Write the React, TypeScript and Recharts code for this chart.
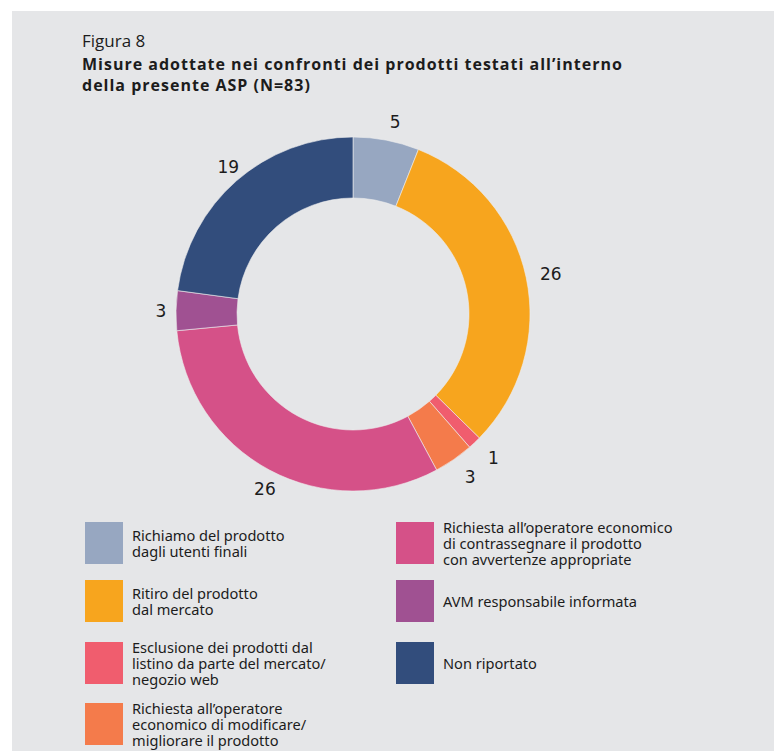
import { PieChart, Pie, Cell } from 'recharts'

const categories = [
  'Richiamo del prodotto\ndagli utenti finali',
  'Ritiro del prodotto\ndal mercato',
  'Esclusione dei prodotti dal\nlistino da parte del mercato/\nnegozio web',
  'Richiesta all\u2019operatore\neconomico di modificare/\nmigliorare il prodotto',
  'Richiesta all\u2019operatore economico\ndi contrassegnare il prodotto\ncon avvertenze appropriate',
  'AVM responsabile informata',
  'Non riportato',
]
const counts = [5, 26, 1, 3, 26, 3, 19]
const colors = ['#97a7c1', '#f7a51e', '#f05d6e', '#f47b4b', '#d55188', '#a05192', '#324d7c']

// legend placement: left column holds the first four, right column the rest
const leftItems = [0, 1, 2, 3]
const rightItems = [4, 5, 6]
const rowTops = [522, 580, 642, 703]

const bg = '#e5e6e8'
const ink = '#1c1c1c'

const data = categories.map((name, i) => ({ name, value: counts[i] }))

const RAD = Math.PI / 180

// value labels sit on a ring slightly right of the donut centre
const renderLabel = (p: any) => {
  const r = p.outerRadius + 20
  const x = p.cx + 5 + r * Math.cos(-p.midAngle * RAD)
  const y = p.cy + 1 + r * Math.sin(-p.midAngle * RAD)
  return (
    <text x={x} y={y} textAnchor="middle" dominantBaseline="central"
      fontFamily="DejaVu Sans" fontSize={17} fill={ink}>
      {p.value}
    </text>
  )
}

function LegendRow({ idx, left, top }: { idx: number; left: number; top: number }) {
  return (
    <div style={{ position: 'absolute', left, top, display: 'flex', alignItems: 'center', height: 42 }}>
      <div style={{ width: 38, height: 42, background: colors[idx], flexShrink: 0 }} />
      <div style={{
        marginLeft: 9, whiteSpace: 'pre-line', fontFamily: '"Noto Sans", sans-serif',
        fontSize: 14.6, lineHeight: '16px', color: ink,
      }}>
        {categories[idx]}
      </div>
    </div>
  )
}

export default function App() {
  const titleFont = '"Open Sans", sans-serif'
  return (
    <div style={{ position: 'absolute', left: 0, top: 0, width: 776, height: 751, background: '#fff', overflow: 'hidden' }}>
      <div style={{ position: 'absolute', left: 12, top: 11, width: 762, height: 740, background: bg }} />

      <div style={{ position: 'absolute', left: 82, top: 34, fontFamily: titleFont, fontSize: 17, lineHeight: '14px', color: ink }}>
        Figura 8
      </div>
      <div style={{
        position: 'absolute', left: 82, top: 53.5, fontFamily: titleFont, fontSize: 16,
        fontWeight: 700, lineHeight: '21px', letterSpacing: 1, color: ink, whiteSpace: 'nowrap',
      }}>
        Misure adottate nei confronti dei prodotti testati all’interno<br />
        della presente ASP (N=83)
      </div>

      <div style={{ position: 'absolute', left: 0, top: 0 }}>
        <PieChart width={776} height={520} margin={{ top: 0, right: 0, bottom: 0, left: 0 }}>
          <Pie
            data={data} dataKey="value" nameKey="name"
            cx={353} cy={314} innerRadius={116} outerRadius={177}
            startAngle={90} endAngle={-270}
            stroke="#eeeeee" strokeWidth={0.6}
            label={renderLabel} labelLine={false}
            isAnimationActive={false}
          >
            {data.map((_, i) => <Cell key={i} fill={colors[i]} />)}
          </Pie>
        </PieChart>
      </div>

      {leftItems.map((idx, r) => <LegendRow key={idx} idx={idx} left={85} top={rowTops[r]} />)}
      {rightItems.map((idx, r) => <LegendRow key={idx} idx={idx} left={396} top={rowTops[r]} />)}
    </div>
  )
}
